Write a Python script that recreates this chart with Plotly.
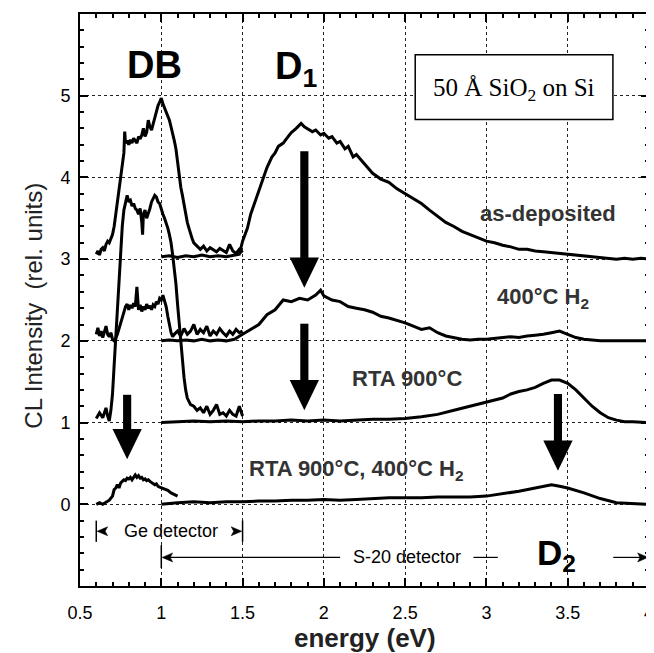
import plotly.graph_objects as go

# ---------------- data ----------------
# Ge-detector segments (energy eV, CL intensity incl. offset)
AS_DEP_GE = [(0.60,3.06),(0.61,3.10),(0.62,3.05),(0.63,3.12),(0.64,3.14),(0.65,3.10),(0.66,3.18),(0.67,3.22),
             (0.68,3.20),(0.69,3.26),(0.70,3.30),(0.71,3.40),(0.72,3.55),(0.73,3.70),(0.74,3.85),(0.75,4.00),
             (0.76,4.15),(0.77,4.30),(0.775,4.56),(0.78,4.42),(0.79,4.45),(0.80,4.40),(0.81,4.46),(0.82,4.42),
             (0.83,4.48),(0.84,4.45),(0.85,4.42),(0.86,4.50),(0.87,4.47),(0.88,4.52),(0.89,4.60),(0.90,4.50),
             (0.91,4.55),(0.92,4.70),(0.93,4.62),(0.94,4.58),(0.95,4.66),(0.96,4.72),(0.97,4.80),(0.98,4.88),
             (0.99,4.92),(1.00,4.97),(1.01,4.90),(1.02,4.85),(1.03,4.80),(1.04,4.75),(1.05,4.70),(1.06,4.62),
             (1.07,4.55),(1.08,4.45),(1.09,4.35),(1.10,4.20),(1.11,4.00),(1.12,3.88),(1.13,3.78),(1.14,3.65),
             (1.15,3.55),(1.16,3.45),(1.17,3.38),(1.18,3.30),(1.19,3.25),(1.20,3.20),(1.22,3.16),(1.24,3.12),
             (1.26,3.16),(1.28,3.10),(1.30,3.14),(1.32,3.11),(1.34,3.09),(1.36,3.13),(1.38,3.10),(1.40,3.08),
             (1.42,3.18),(1.44,3.10),(1.46,3.07),(1.48,3.12),(1.50,3.08)]
H2_GE = [(0.60,2.08),(0.61,2.16),(0.62,2.06),(0.63,2.12),(0.64,2.04),(0.65,2.10),(0.66,2.18),(0.67,2.08),
         (0.68,2.05),(0.69,2.10),(0.70,2.02),(0.71,2.00),(0.72,2.03),(0.73,2.08),(0.74,2.15),(0.75,2.22),
         (0.76,2.30),(0.77,2.36),(0.78,2.42),(0.79,2.45),(0.80,2.38),(0.81,2.44),(0.82,2.40),(0.83,2.46),
         (0.84,2.42),(0.85,2.66),(0.855,2.42),(0.86,2.38),(0.87,2.44),(0.88,2.36),(0.89,2.42),(0.90,2.38),
         (0.91,2.45),(0.92,2.40),(0.93,2.43),(0.94,2.38),(0.95,2.44),(0.96,2.42),(0.97,2.48),(0.98,2.45),
         (0.99,2.52),(1.00,2.50),(1.01,2.56),(1.02,2.48),(1.03,2.42),(1.04,2.30),(1.05,2.18),(1.06,2.10),
         (1.07,2.05),(1.08,2.08),(1.10,2.12),(1.12,2.06),(1.14,2.15),(1.16,2.08),(1.18,2.12),(1.20,2.20),
         (1.22,2.08),(1.24,2.14),(1.26,2.10),(1.28,2.18),(1.30,2.06),(1.32,2.12),(1.34,2.08),(1.36,2.15),
         (1.38,2.10),(1.40,2.06),(1.42,2.12),(1.44,2.08),(1.46,2.14),(1.48,2.10),(1.50,2.12)]
RTA_GE = [(0.60,1.05),(0.62,1.12),(0.64,1.06),(0.66,1.18),(0.67,1.08),(0.68,1.02),(0.69,1.15),(0.70,1.35),
          (0.71,1.70),(0.72,2.05),(0.73,2.40),(0.74,2.75),(0.75,3.10),(0.76,3.40),(0.77,3.60),(0.78,3.70),
          (0.79,3.78),(0.80,3.70),(0.81,3.72),(0.82,3.65),(0.83,3.68),(0.84,3.62),(0.85,3.60),(0.86,3.55),
          (0.87,3.62),(0.88,3.45),(0.885,3.30),(0.89,3.55),(0.90,3.60),(0.91,3.50),(0.92,3.55),(0.93,3.62),
          (0.94,3.70),(0.95,3.75),(0.96,3.78),(0.97,3.76),(0.98,3.70),(0.99,3.68),(1.00,3.60),(1.01,3.55),
          (1.02,3.50),(1.03,3.45),(1.04,3.38),(1.05,3.30),(1.06,3.20),(1.07,3.05),(1.08,2.90),(1.09,2.70),
          (1.10,2.45),(1.11,2.20),(1.12,1.95),(1.13,1.75),(1.14,1.55),(1.15,1.40),(1.16,1.30),(1.18,1.22),
          (1.20,1.20),(1.22,1.15),(1.24,1.18),(1.26,1.12),(1.28,1.20),(1.30,1.10),(1.32,1.15),(1.34,1.22),
          (1.36,1.10),(1.38,1.12),(1.40,1.08),(1.42,1.15),(1.44,1.10),(1.46,1.08),(1.48,1.20),(1.50,1.08)]
RTA_H2_GE = [(0.60,0.00),(0.62,0.02),(0.64,0.00),(0.66,0.03),(0.68,0.05),(0.70,0.10),(0.71,0.18),(0.72,0.20),
             (0.73,0.24),(0.74,0.20),(0.75,0.26),(0.76,0.28),(0.77,0.30),(0.78,0.29),(0.79,0.32),(0.80,0.31),
             (0.81,0.33),(0.82,0.30),(0.83,0.34),(0.84,0.36),(0.85,0.33),(0.86,0.35),(0.87,0.32),(0.88,0.33),
             (0.89,0.30),(0.90,0.31),(0.91,0.29),(0.92,0.30),(0.93,0.28),(0.94,0.27),(0.95,0.26),(0.96,0.24),
             (0.97,0.25),(0.98,0.22),(0.99,0.21),(1.00,0.20),(1.02,0.18),(1.04,0.17),(1.06,0.14),(1.08,0.12),
             (1.10,0.10)]

# S-20 detector segments
AS_DEP_S20 = [(1.00,3.03),(1.05,3.04),(1.10,3.02),(1.15,3.04),(1.20,3.03),(1.25,3.05),(1.30,3.03),(1.35,3.04),
              (1.40,3.03),(1.45,3.05),(1.48,3.06),(1.50,3.22),(1.53,3.38),(1.55,3.55),(1.58,3.72),(1.60,3.85),
              (1.63,4.02),(1.65,4.12),(1.68,4.25),(1.70,4.30),(1.72,4.38),(1.75,4.42),(1.78,4.50),(1.80,4.55),
              (1.83,4.60),(1.86,4.66),(1.88,4.62),(1.90,4.60),(1.93,4.56),(1.95,4.58),(1.98,4.52),(2.00,4.54),
              (2.03,4.48),(2.05,4.50),(2.08,4.42),(2.10,4.44),(2.13,4.35),(2.15,4.38),(2.18,4.25),(2.20,4.28),
              (2.25,4.16),(2.30,4.05),(2.35,3.98),(2.40,3.94),(2.45,3.86),(2.50,3.80),(2.55,3.74),(2.60,3.68),
              (2.65,3.60),(2.70,3.52),(2.75,3.45),(2.80,3.40),(2.85,3.34),(2.90,3.30),(2.95,3.26),(3.00,3.22),
              (3.05,3.20),(3.10,3.17),(3.15,3.15),(3.20,3.12),(3.25,3.12),(3.30,3.10),(3.35,3.09),(3.40,3.08),
              (3.45,3.07),(3.50,3.06),(3.55,3.05),(3.60,3.04),(3.65,3.03),(3.70,3.02),(3.75,3.01),(3.80,3.00),
              (3.85,3.01),(3.90,3.00),(3.95,3.01),(4.00,3.00)]
H2_S20 = [(1.00,2.00),(1.05,2.01),(1.10,2.00),(1.15,2.01),(1.20,2.00),(1.25,2.02),(1.30,2.00),(1.35,2.01),
          (1.40,2.00),(1.45,2.02),(1.50,2.08),(1.55,2.14),(1.60,2.20),(1.65,2.32),(1.70,2.38),(1.75,2.50),
          (1.80,2.48),(1.85,2.52),(1.90,2.50),(1.95,2.56),(1.98,2.62),(2.00,2.55),(2.05,2.50),(2.10,2.48),
          (2.15,2.42),(2.20,2.40),(2.25,2.38),(2.30,2.35),(2.35,2.30),(2.40,2.28),(2.45,2.25),(2.50,2.22),
          (2.55,2.18),(2.60,2.14),(2.65,2.16),(2.70,2.10),(2.75,2.06),(2.80,2.04),(2.85,2.02),(2.90,2.01),
          (2.95,2.02),(3.00,2.02),(3.05,2.03),(3.10,2.04),(3.15,2.05),(3.20,2.04),(3.25,2.06),(3.30,2.07),
          (3.35,2.08),(3.40,2.10),(3.45,2.12),(3.50,2.08),(3.55,2.04),(3.60,2.02),(3.65,2.01),(3.70,2.00),
          (3.80,2.00),(3.90,2.00),(4.00,2.00)]
RTA_S20 = [(1.00,1.00),(1.10,1.01),(1.20,1.02),(1.30,1.01),(1.40,1.02),(1.50,1.01),(1.60,1.02),(1.70,1.02),
           (1.80,1.03),(1.90,1.02),(2.00,1.03),(2.10,1.02),(2.20,1.03),(2.30,1.04),(2.40,1.04),(2.50,1.05),
           (2.60,1.07),(2.70,1.10),(2.80,1.15),(2.90,1.20),(3.00,1.25),(3.05,1.27),(3.10,1.30),(3.15,1.35),
           (3.20,1.38),(3.25,1.40),(3.30,1.43),(3.35,1.48),(3.40,1.52),(3.45,1.52),(3.50,1.48),(3.55,1.40),
           (3.60,1.30),(3.65,1.20),(3.70,1.12),(3.75,1.06),(3.80,1.03),(3.85,1.01),(3.90,1.01),(4.00,1.00)]
RTA_H2_S20 = [(1.00,0.00),(1.10,0.02),(1.20,0.03),(1.30,0.02),(1.40,0.03),(1.50,0.03),(1.60,0.04),(1.70,0.04),
              (1.80,0.05),(1.90,0.05),(2.00,0.06),(2.10,0.05),(2.20,0.06),(2.30,0.07),(2.40,0.08),(2.50,0.08),
              (2.60,0.08),(2.70,0.09),(2.80,0.09),(2.90,0.09),(3.00,0.10),(3.10,0.13),(3.20,0.16),(3.30,0.20),
              (3.40,0.24),(3.45,0.22),(3.50,0.20),(3.60,0.14),(3.70,0.07),(3.80,0.02),(3.90,0.01),(4.00,0.00)]

SERIES = [AS_DEP_GE, AS_DEP_S20, H2_GE, H2_S20, RTA_GE, RTA_S20, RTA_H2_GE, RTA_H2_S20]

X_TICKS = [0.5, 1, 1.5, 2, 2.5, 3, 3.5, 4]
X_TICK_TEXT = ["0.5", "1", "1.5", "2", "2.5", "3", "3.5", "4"]
Y_TICKS = [0, 1, 2, 3, 4, 5]
Y_TICK_TEXT = ["0", "1", "2", "3", "4", "5"]

# arrows marking the bands (x, top, tip)
ARROW_X = [1.88, 1.88, 0.79, 3.44]
ARROW_TOP = [4.32, 2.21, 1.34, 1.35]
ARROW_TIP = [2.65, 1.15, 0.55, 0.41]

# ---------------- figure ----------------
fig = go.Figure()
for s in SERIES:
    fig.add_trace(go.Scatter(x=[p[0] for p in s], y=[p[1] for p in s], mode="lines",
                             line=dict(color="black", width=3), showlegend=False, hoverinfo="skip"))

HEAD_LEN = 0.37
HEAD_HALF = 0.09
SHAFT_HALF = 0.025
for xc, top, tip in zip(ARROW_X, ARROW_TOP, ARROW_TIP):
    base = tip + HEAD_LEN
    fig.add_shape(type="rect", xref="x", yref="y", x0=xc - SHAFT_HALF, x1=xc + SHAFT_HALF,
                  y0=base - 0.02, y1=top, fillcolor="black", line=dict(width=0))
    fig.add_shape(type="path", xref="x", yref="y",
                  path=f"M {xc-HEAD_HALF},{base} L {xc+HEAD_HALF},{base} L {xc},{tip} Z",
                  fillcolor="black", line=dict(width=0))

# box around sample label
fig.add_shape(type="rect", xref="x", yref="y", x0=2.562, x1=3.778, y0=4.71, y1=5.5,
              line=dict(color="black", width=1.5), fillcolor="white")

# detector brackets
def hline(x0, x1, y, w=1.2):
    fig.add_shape(type="line", xref="x", yref="y", x0=x0, x1=x1, y0=y, y1=y,
                  line=dict(color="black", width=w))

def vline(x, y0, y1):
    fig.add_shape(type="line", xref="x", yref="y", x0=x, x1=x, y0=y0, y1=y1,
                  line=dict(color="black", width=1.5))

def head(xtip, y, direction):
    # small filled arrow head; direction -1 points left, +1 points right
    L, H = 0.065, 0.055
    xb = xtip - direction * L
    fig.add_shape(type="path", xref="x", yref="y",
                  path=f"M {xtip},{y} L {xb},{y+H} L {xb + direction*0.015},{y} L {xb},{y-H} Z",
                  fillcolor="black", line=dict(color="black", width=0.5))

vline(0.6, -0.2, -0.46)
vline(1.5, -0.2, -0.46)
head(0.605, -0.33, -1)
head(1.495, -0.33, 1)
vline(1.0, -0.5, -0.78)
head(1.005, -0.65, -1)
hline(1.05, 2.1, -0.65)
hline(2.92, 3.07, -0.65)
hline(3.78, 3.95, -0.65)
head(3.995, -0.65, 1)

label_font = dict(family="Liberation Sans, Arial", size=22, color="#333333")
texts = [
    dict(x=0.957, y=5.37, text="<b>DB</b>", font=dict(family="Liberation Sans, Arial", size=38, color="black")),
    dict(x=1.83, y=5.33, text="<b>D<sub>1</sub></b>", font=dict(family="Liberation Sans, Arial", size=38, color="black")),
    dict(x=3.43, y=-0.62, text="<b>D<sub>2</sub></b>", font=dict(family="Liberation Sans, Arial", size=35, color="black")),
    dict(x=3.17, y=5.08, text="50 Å SiO<sub>2</sub> on Si", font=dict(family="Liberation Serif, Times New Roman", size=25, color="black")),
    dict(x=3.38, y=3.56, text="<b>as-deposited</b>", font=label_font),
    dict(x=3.35, y=2.52, text="<b>400°C H<sub>2</sub></b>", font=label_font),
    dict(x=2.51, y=1.54, text="<b>RTA 900°C</b>", font=label_font),
    dict(x=2.2, y=0.42, text="<b>RTA 900°C, 400°C H<sub>2</sub></b>", font=label_font),
    dict(x=1.06, y=-0.33, text="Ge detector", font=dict(family="Liberation Sans, Arial", size=18, color="black")),
    dict(x=2.51, y=-0.65, text="S-20 detector", font=dict(family="Liberation Sans, Arial", size=18, color="black")),
]
for t in texts:
    fig.add_annotation(x=t["x"], y=t["y"], xref="x", yref="y", text=t["text"], showarrow=False,
                       font=t["font"], xanchor="center", yanchor="middle")

# axis titles
fig.add_annotation(x=0.5, y=-0.091, xref="paper", yref="paper", text="<b>energy (eV)</b>", showarrow=False,
                   font=dict(family="Liberation Sans, Arial", size=26, color="#222"), xanchor="center", yanchor="middle")
fig.add_annotation(x=-0.081, y=0.49, xref="paper", yref="paper", text="CL Intensity\u00a0\u00a0(rel. units)",
                   showarrow=False, textangle=-90,
                   font=dict(family="Liberation Sans, Arial", size=24, color="#222"), xanchor="center", yanchor="middle")

axis_common = dict(showline=True, linecolor="black", linewidth=2, mirror="allticks", ticks="inside",
                   tickcolor="black", tickwidth=1.5, ticklen=8, zeroline=False,
                   showgrid=True, gridcolor="#222", griddash="dot", gridwidth=1,
                   ticklabeloverflow="allow",
                   tickfont=dict(family="Liberation Sans, Arial", size=18, color="black"))

fig.update_xaxes(range=[0.5, 4], tickmode="array", tickvals=X_TICKS, ticktext=X_TICK_TEXT,
                 minor=dict(tick0=0.5, dtick=0.1, ticks="inside", ticklen=4, tickcolor="black", showgrid=False),
                 ticklabelstandoff=9, automargin=False, **axis_common)
fig.update_yaxes(range=[-1, 6], tickmode="array", tickvals=Y_TICKS, ticktext=Y_TICK_TEXT,
                 minor=dict(tick0=0, dtick=0.2, ticks="inside", ticklen=4, tickcolor="black", showgrid=False),
                 ticklabelstandoff=4, automargin=False, **axis_common)

# page body adds an 8px offset, so the figure is 8px smaller and margins shifted
fig.update_layout(width=646, height=645, margin=dict(l=72, r=5, t=6, b=67),
                  plot_bgcolor="white", paper_bgcolor="white", showlegend=False)

fig.write_html("out.html")
